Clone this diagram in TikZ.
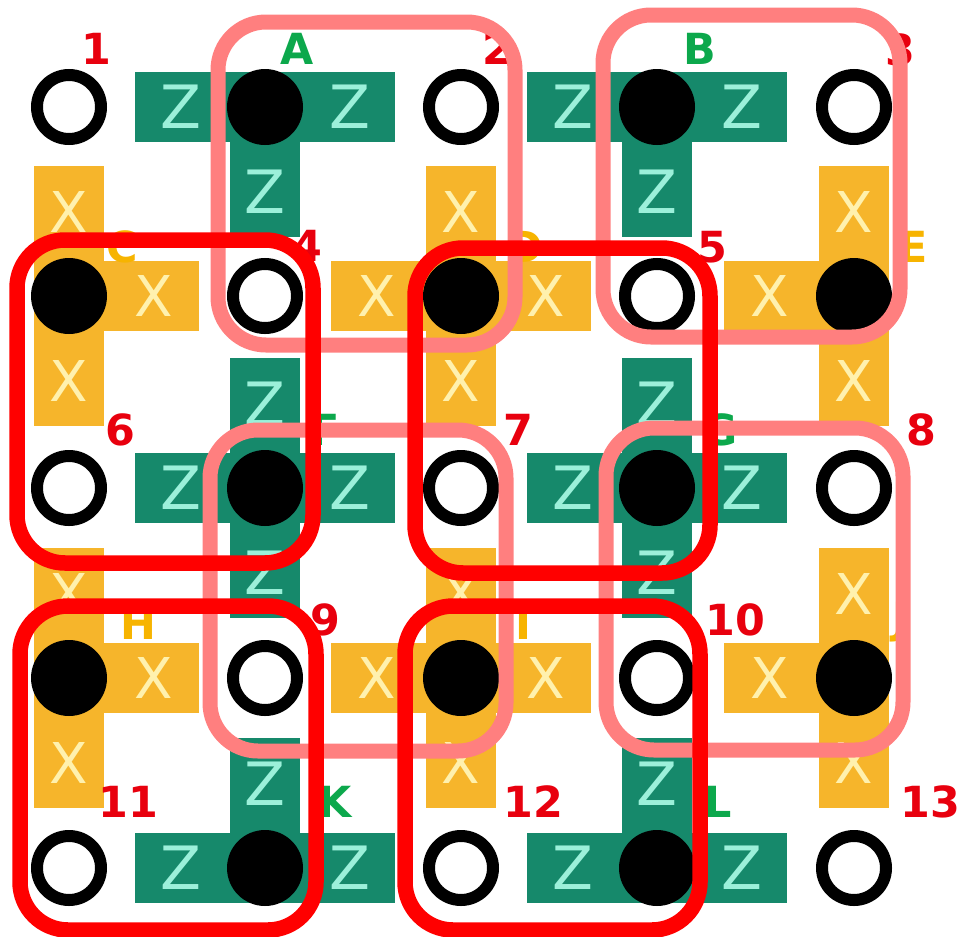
\documentclass[tikz,border=0pt]{standalone}
\usepackage{fontspec}
\setmainfont{DejaVu Sans}
\usetikzlibrary{backgrounds}
\definecolor{ZGreen}{HTML}{16896B}
\definecolor{ZLetter}{HTML}{9CF0DA}
\definecolor{XYellow}{HTML}{F6B52B}
\definecolor{XLetter}{HTML}{FFF1AE}
\definecolor{NumRed}{HTML}{E8000E}
\definecolor{NameGreen}{HTML}{0CA84C}
\definecolor{NameYellow}{HTML}{F7B400}
\definecolor{BoxPink}{HTML}{FF7F7F}
\definecolor{BoxRed}{HTML}{FF0000}

\begin{document}
\begin{tikzpicture}[
    x=0.1mm, y=-0.1mm,
    data/.style={circle, draw=black, line width=1.2mm, fill=white, minimum size=6.4mm, inner sep=0pt},
    anc/.style={circle, fill=black, minimum size=7.6mm, inner sep=0pt},
    zarm/.style={draw=ZGreen, line width=7mm},
    xarm/.style={draw=XYellow, line width=7mm},
    zlet/.style={text=ZLetter, inner sep=0pt, font=\fontsize{17}{17}\selectfont},
    xlet/.style={text=XLetter, inner sep=0pt, font=\fontsize{16}{16}\selectfont},
    num/.style={text=NumRed, inner sep=0pt, font=\bfseries\fontsize{12.2}{13}\selectfont},
    zname/.style={text=NameGreen, inner sep=0pt, font=\bfseries\fontsize{12.2}{13}\selectfont},
    xname/.style={text=NameYellow, inner sep=0pt, font=\bfseries\fontsize{12.2}{13}\selectfont},
    zbox/.style={draw=BoxPink, line width=1.5mm, rounded corners=4.8mm},
    xbox/.style={draw=BoxRed, line width=1.55mm, rounded corners=4.8mm}
  ]
  \useasboundingbox (0,0) rectangle (960,937);

  % data qubits and their numbers
  \foreach \n/\x/\y/\lx/\ly in {1/69/107/96/49, 2/461/107/497/49, 3/854/107/900/50,
      4/265/296/307/246, 5/657/296/712/247,
      6/69/488/120/430, 7/461/488/518/430, 8/854/488/921/430,
      9/265/678/325/620, 10/657/678/735/620,
      11/69/868/128/802, 12/461/868/533/802, 13/854/868/930/802} {
    \node[data] (q\n) at (\x,\y) {};
    \node[num] (n\n) at (\lx,\ly) {\n};
  }

  % Z ancillas
  \node[anc] (A) at (265,107) {};
  \node[anc] (B) at (657,107) {};
  \node[anc] (F) at (265,488) {};
  \node[anc] (G) at (657,488) {};
  \node[anc] (K) at (265,868) {};
  \node[anc] (L) at (657,868) {};
  % X ancillas
  \node[anc] (C) at (69,296) {};
  \node[anc] (D) at (461,296) {};
  \node[anc] (E) at (854,296) {};
  \node[anc] (H) at (69,678) {};
  \node[anc] (I) at (461,678) {};
  \node[anc] (J) at (854,678) {};

  \begin{scope}[on background layer]
    \foreach \a/\dx/\dy in {A/-130/0, A/130/0, A/0/130, B/-130/0, B/130/0, B/0/130,
        F/-130/0, F/130/0, F/0/-130, F/0/130, G/-130/0, G/130/0, G/0/-130, G/0/130,
        K/-130/0, K/130/0, K/0/-130, L/-130/0, L/130/0, L/0/-130}
      \draw[zarm] (\a.center) -- ++(\dx,\dy) node[pos=.65, zlet] {Z};
    \foreach \a/\dx/\dy in {C/130/0, C/0/-130, C/0/130, D/-130/0, D/130/0, D/0/-130, D/0/130,
        E/-130/0, E/0/-130, E/0/130, H/130/0, H/0/-130, H/0/130,
        I/-130/0, I/130/0, I/0/-130, I/0/130, J/-130/0, J/0/-130, J/0/130}
      \draw[xarm] (\a.center) -- ++(\dx,\dy) node[pos=.65, xlet] {X};
  \end{scope}

  % ancilla names
  \node[zname] (tA) at (297,49) {A};
  \node[zname] (tB) at (700,49) {B};
  \node[zname] (tF) at (325,430) {F};
  \node[zname] (tG) at (720,430) {G};
  \node[zname] (tK) at (335,802) {K};
  \node[zname] (tL) at (718,802) {L};
  \node[xname] (tC) at (122,247) {C};
  \node[xname] (tD) at (525,247) {D};
  \node[xname] (tE) at (913,247) {E};
  \node[xname] (tH) at (138,624) {H};
  \node[xname] (tI) at (523,624) {I};
  \node[xname] (tJ) at (900,622) {J};

  % stabilizer boxes
  \draw[zbox] (218,22) rectangle (515,345);
  \draw[zbox] (603,15) rectangle (900,337);
  \draw[zbox] (210,430) rectangle (506,751);
  \draw[zbox] (606,428) rectangle (903,750);
  \draw[xbox] (17,240) rectangle (313,563);
  \draw[xbox] (415,248) rectangle (710,573);
  \draw[xbox] (20,606) rectangle (316,930);
  \draw[xbox] (405,606) rectangle (700,930);
\end{tikzpicture}
\end{document}
